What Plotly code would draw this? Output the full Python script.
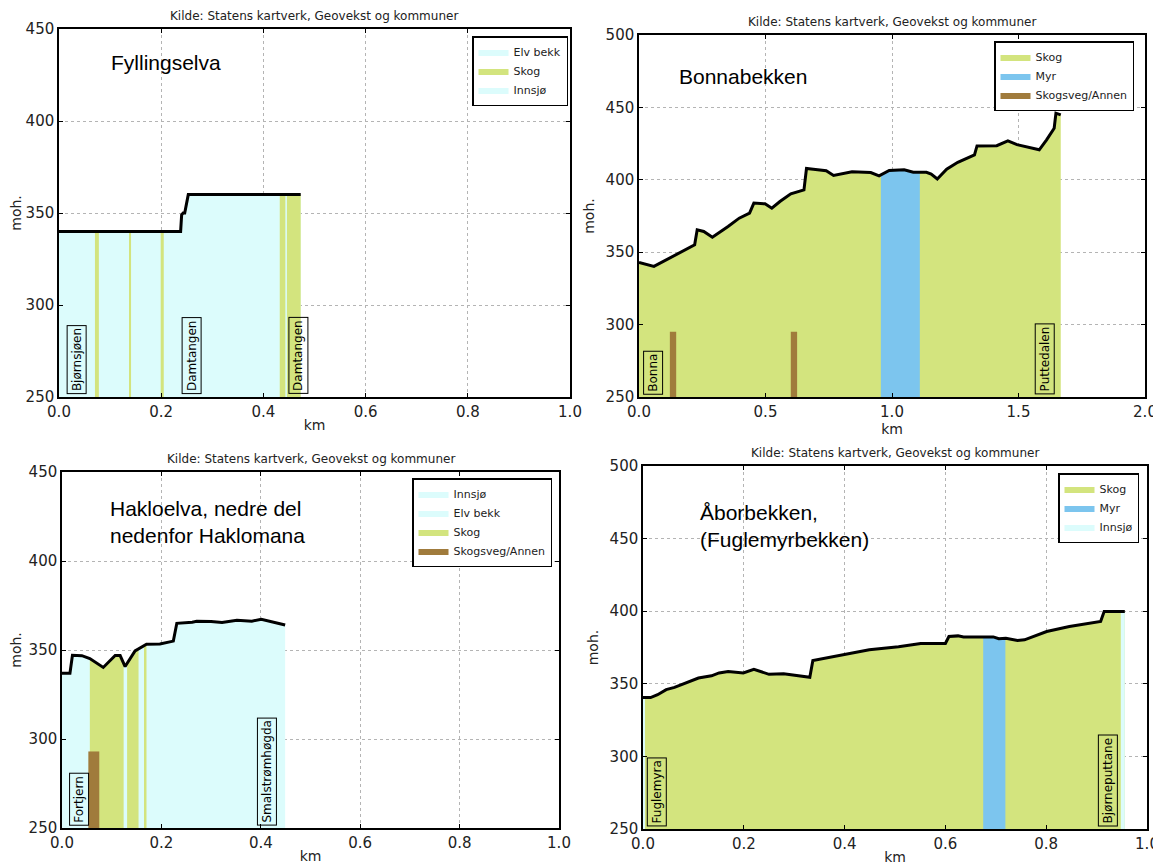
import numpy as np
import plotly.graph_objects as go

# ---------------- colours ----------------
C_SKOG = "#d3e47e"
C_MYR = "#7cc5ee"
C_VANN = "#dcfcfc"
C_VEG = "#a07b3c"
FLOOR = 250

# ---------------- data: Fyllingselva ----------------
fy_km = [0.0, 0.238, 0.240, 0.243, 0.246, 0.253, 0.473]
fy_moh = [340, 340, 349, 350, 350, 360, 360]
fy_skog = [(0.070, 0.078), (0.137, 0.141), (0.199, 0.205), (0.432, 0.443), (0.446, 0.473)]
fy_innsjo = [(0.0, 0.070)]
fy_names = ["Bjørnsjøen", "Damtangen", "Damtangen"]
fy_name_km = [0.034, 0.259, 0.468]

# ---------------- data: Bonnabekken ----------------
bo_km = [0.0, 0.059, 0.22, 0.23, 0.256, 0.29, 0.352, 0.396, 0.437, 0.454, 0.498, 0.525,
         0.557, 0.60, 0.652, 0.662, 0.689, 0.74, 0.769, 0.842, 0.916, 0.949, 0.989, 1.048,
         1.084, 1.136, 1.155, 1.179, 1.216, 1.26, 1.326, 1.336, 1.414, 1.458, 1.494, 1.582,
         1.611, 1.641, 1.648, 1.667]
bo_moh = [342.9, 340.2, 355.1, 365.5, 364.3, 360.4, 367.8, 373.5, 377.0, 383.9, 383.4, 380.4,
          385.0, 390.3, 393.0, 407.8, 407.3, 406.2, 403.0, 405.5, 405.0, 402.7, 406.4, 406.9,
          405.2, 405.2, 404.0, 400.6, 407.3, 412.1, 417.2, 423.4, 423.6, 426.9, 424.3, 420.7,
          427.6, 435.6, 446.0, 444.8]
bo_myr = [(0.956, 1.110)]
bo_veg = [(0.122, 0.147), (0.600, 0.625)]
bo_veg_top = [295, 295]
bo_names = ["Bonna", "Puttedalen"]
bo_name_km = [0.055, 1.605]

# ---------------- data: Hakloelva ----------------
ha_km = [0.0, 0.016, 0.021, 0.040, 0.056, 0.083, 0.107, 0.117, 0.127, 0.147, 0.170, 0.197,
         0.224, 0.231, 0.262, 0.271, 0.300, 0.322, 0.352, 0.382, 0.401, 0.430, 0.449]
ha_moh = [337.0, 337.0, 347.0, 346.8, 345.2, 340.2, 346.9, 346.9, 340.7, 349.5, 353.2, 353.4,
          355.0, 365.0, 365.6, 366.1, 366.0, 365.4, 366.7, 366.2, 367.3, 365.5, 364.0]
ha_innsjo = [(0.0, 0.056)]
ha_skog = [(0.056, 0.124), (0.131, 0.154), (0.165, 0.170)]
ha_veg = [(0.053, 0.075)]
ha_veg_top = [293]
ha_names = ["Fortjern", "Smalstrømhøgda"]
ha_name_km = [0.034, 0.413]

# ---------------- data: Åborbekken ----------------
ab_km = [0.0, 0.015, 0.029, 0.046, 0.0625, 0.081, 0.110, 0.136, 0.151, 0.169, 0.199, 0.220,
         0.250, 0.279, 0.331, 0.337, 0.390, 0.449, 0.507, 0.551, 0.600, 0.607, 0.625, 0.636,
         0.695, 0.706, 0.720, 0.743, 0.757, 0.801, 0.846, 0.882, 0.908, 0.915, 0.956]
ab_moh = [340.5, 340.5, 342.5, 346.0, 347.5, 350.0, 354.0, 355.5, 357.5, 358.5, 357.5, 360.0,
          356.5, 357.0, 354.5, 366.0, 369.5, 373.5, 375.5, 377.8, 377.8, 382.6, 383.0, 382.2,
          382.3, 381.0, 381.4, 379.8, 380.3, 386.0, 389.4, 391.7, 392.9, 399.8, 399.8]
ab_myr = [(0.675, 0.719)]
ab_innsjo = [(0.0, 0.004), (0.948, 0.956)]
ab_names = ["Fuglemyra", "Bjørneputtane"]
ab_name_km = [0.028, 0.922]

SOURCE = "Kilde: Statens kartverk, Geovekst og kommuner"


def under_profile(km, moh, segments):
    km = np.asarray(km, dtype=float)
    moh = np.asarray(moh, dtype=float)
    xs_all, ys_all = [], []
    for a, b in segments:
        inner = km[(km > a) & (km < b)]
        xs = np.concatenate([[a], inner, [b]])
        ys = np.interp(xs, km, moh)
        xs_all += list(xs) + [b, a, a, None]
        ys_all += list(ys) + [FLOOR, FLOOR, ys[0], None]
    return xs_all, ys_all


def rects(segments, tops):
    xs_all, ys_all = [], []
    for (a, b), t in zip(segments, tops):
        xs_all += [a, b, b, a, a, None]
        ys_all += [FLOOR, FLOOR, t, t, FLOOR, None]
    return xs_all, ys_all


fig = go.Figure()


def add_area(xs, ys, color, name, ax, legend, rank):
    fig.add_trace(go.Scatter(
        x=xs, y=ys, mode="lines", fill="toself", fillcolor=color,
        line=dict(width=0, color=color), name=name,
        xaxis="x" + ax, yaxis="y" + ax, legend=legend, legendrank=rank,
        hoverinfo="skip"))


def add_profile(km, moh, ax):
    fig.add_trace(go.Scatter(
        x=km, y=moh, mode="lines", line=dict(color="black", width=3),
        showlegend=False, xaxis="x" + ax, yaxis="y" + ax, hoverinfo="skip"))


# ---- panel 1 : Fyllingselva ----
ax = ""
xs, ys = under_profile(fy_km, fy_moh, [(fy_km[0], fy_km[-1])])
add_area(xs, ys, C_VANN, "Elv bekk", ax, "legend", 1)
xs, ys = under_profile(fy_km, fy_moh, fy_skog)
add_area(xs, ys, C_SKOG, "Skog", ax, "legend", 2)
xs, ys = under_profile(fy_km, fy_moh, fy_innsjo)
add_area(xs, ys, C_VANN, "Innsjø", ax, "legend", 3)
add_profile(fy_km, fy_moh, ax)

# ---- panel 2 : Bonnabekken ----
ax = "2"
xs, ys = under_profile(bo_km, bo_moh, [(bo_km[0], bo_km[-1])])
add_area(xs, ys, C_SKOG, "Skog", ax, "legend2", 1)
xs, ys = under_profile(bo_km, bo_moh, bo_myr)
add_area(xs, ys, C_MYR, "Myr", ax, "legend2", 2)
xs, ys = rects(bo_veg, bo_veg_top)
add_area(xs, ys, C_VEG, "Skogsveg/Annen", ax, "legend2", 3)
add_profile(bo_km, bo_moh, ax)

# ---- panel 3 : Hakloelva ----
ax = "3"
xs, ys = under_profile(ha_km, ha_moh, [(ha_km[0], ha_km[-1])])
add_area(xs, ys, C_VANN, "Elv bekk", ax, "legend3", 2)
xs, ys = under_profile(ha_km, ha_moh, ha_innsjo)
add_area(xs, ys, C_VANN, "Innsjø", ax, "legend3", 1)
xs, ys = under_profile(ha_km, ha_moh, ha_skog)
add_area(xs, ys, C_SKOG, "Skog", ax, "legend3", 3)
xs, ys = rects(ha_veg, ha_veg_top)
add_area(xs, ys, C_VEG, "Skogsveg/Annen", ax, "legend3", 4)
add_profile(ha_km, ha_moh, ax)

# ---- panel 4 : Åborbekken ----
ax = "4"
xs, ys = under_profile(ab_km, ab_moh, [(ab_km[0], ab_km[-1])])
add_area(xs, ys, C_SKOG, "Skog", ax, "legend4", 1)
xs, ys = under_profile(ab_km, ab_moh, ab_myr)
add_area(xs, ys, C_MYR, "Myr", ax, "legend4", 2)
xs, ys = under_profile(ab_km, ab_moh, ab_innsjo)
add_area(xs, ys, C_VANN, "Innsjø", ax, "legend4", 3)
add_profile(ab_km, ab_moh, ax)

# The page body has an 8px margin, so the figure is drawn 8px smaller and
# all target pixel positions are shifted by that offset.
OFF = 8
W, H = 1161 - OFF, 866 - OFF
# plot-area pixel boxes in the window (left, right, top, bottom)
boxes = {
    "": (59, 570, 29, 397),
    "2": (639, 1145, 35, 397),
    "3": (62, 559, 472, 828),
    "4": (643, 1147, 466, 829),
}


def px(x):
    return (x - OFF) / W


def py(y):
    return 1 - (y - OFF) / H


xranges = {"": [0, 1], "2": [0, 2], "3": [0, 1], "4": [0, 1]}
yranges = {"": [250, 450], "2": [250, 500], "3": [250, 450], "4": [250, 500]}
xdt = {"": 0.2, "2": 0.5, "3": 0.2, "4": 0.2}

axis_common = dict(
    showline=True, linecolor="black", linewidth=1.5, mirror="ticks",
    ticks="inside", ticklen=4, tickcolor="black", automargin=False,
    showgrid=True, gridcolor="#b4b4b4", griddash="dot", gridwidth=1,
    zeroline=False, tickfont=dict(family="DejaVu Sans", size=15, color="#222"),
)

layout = {}
for k, (l, r, t, b) in boxes.items():
    xa = dict(axis_common)
    xa.update(domain=[px(l), px(r)], range=xranges[k], dtick=xdt[k], tick0=0,
              tickformat=".1f", anchor="y" + k,
              title=dict(text="km", font=dict(family="DejaVu Sans", size=14, color="#222"),
                         standoff=0))
    ya = dict(axis_common)
    ya.update(domain=[py(b), py(t)], range=yranges[k], dtick=50, tick0=250,
              anchor="x" + k,
              title=dict(text="moh.", font=dict(family="DejaVu Sans", size=14, color="#222"),
                         standoff=8))
    layout["xaxis" + k] = xa
    layout["yaxis" + k] = ya

legend_common = dict(bgcolor="white", bordercolor="black", borderwidth=1.5,
                     font=dict(family="DejaVu Sans", size=11, color="#222"),
                     xanchor="right", yanchor="top", tracegroupgap=0,
                     itemwidth=30, traceorder="normal")
layout["legend"] = dict(legend_common, x=px(568), y=py(36))
layout["legend2"] = dict(legend_common, x=px(1134), y=py(41))
layout["legend3"] = dict(legend_common, x=px(552), y=py(478))
layout["legend4"] = dict(legend_common, x=px(1139), y=py(473))

fig.update_layout(
    width=W, height=H, margin=dict(l=0, r=0, t=0, b=0, autoexpand=False),
    paper_bgcolor="white", plot_bgcolor="white", showlegend=True,
    **layout)

annotations = []
# source line above each panel
for k, (l, r, t, b) in boxes.items():
    annotations.append(dict(
        text=SOURCE, xref="paper", yref="paper", x=px((l + r) / 2), y=py(t - 4),
        xanchor="center", yanchor="bottom", showarrow=False,
        font=dict(family="DejaVu Sans", size=12, color="#222")))

# river names
TF = dict(family="Liberation Sans, Arial", size=21, color="black")
annotations += [
    dict(text="Fyllingselva", xref="x", yref="y", x=0.098, y=432, xanchor="left",
         yanchor="middle", showarrow=False, font=TF, align="left"),
    dict(text="Bonnabekken", xref="x2", yref="y2", x=0.15, y=471, xanchor="left",
         yanchor="middle", showarrow=False, font=TF, align="left"),
    dict(text="Hakloelva, nedre del<br>nedenfor Haklomana", xref="x3", yref="y3", x=0.093,
         y=422, xanchor="left", yanchor="middle", showarrow=False, font=TF, align="left"),
    dict(text="Åborbekken,<br>(Fuglemyrbekken)", xref="x4", yref="y4", x=0.11, y=459,
         xanchor="left", yanchor="middle", showarrow=False, font=TF, align="left"),
]

# place-name labels
LF = dict(family="DejaVu Sans", size=12, color="black")
for k, names, kms in [("", fy_names, fy_name_km), ("2", bo_names, bo_name_km),
                      ("3", ha_names, ha_name_km), ("4", ab_names, ab_name_km)]:
    for nm, x in zip(names, kms):
        annotations.append(dict(
            text=nm, xref="x" + k, yref="y" + k, x=x, y=FLOOR + 1.5, textangle=-90,
            xanchor="center", yanchor="bottom", showarrow=False, font=LF,
            bordercolor="black", borderwidth=1, borderpad=2))

fig.update_layout(annotations=annotations)

fig.write_html("out.html")
